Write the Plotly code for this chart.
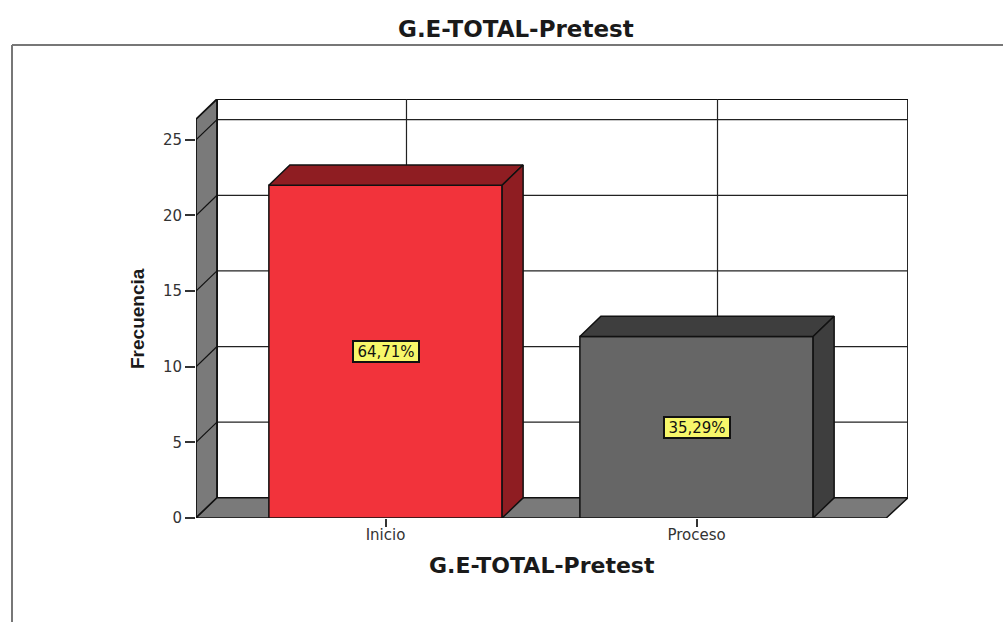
import plotly.graph_objects as go

# --- data ---
categorias = ["Inicio", "Proceso"]
frecuencia = [22, 12]
porcentajes = ["64,71%", "35,29%"]
y_ticks = [0, 5, 10, 15, 20, 25]
titulo = "G.E-TOTAL-Pretest"
y_titulo = "Frecuencia"
color_frente = ["#F2333B", "#666666"]
color_lado = ["#8F1D22", "#3E3E3E"]

# --- layout constants ---
W, H = 1003, 622
L, R, T, B = 196, 95, 99, 104
BAR_W = 0.75
X0, X1 = -0.6093, 1.6800          # includes the oblique depth
XF = 1.6100                        # right end of the front plane
YMAX_BACK = 27.7
DX, DY = 0.0675, 1.335             # oblique depth in data units
YF = YMAX_BACK - DY
EDGE = "#111111"
WALL = "#7A7A7A"
TICK_FONT = dict(family="DejaVu Sans", size=15, color="#333333")


def path(pts):
    return "M " + " L ".join(f"{x} {y}" for x, y in pts) + " Z"


def px(x):
    return (x - L) / (W - L - R)


def py(y):
    return 1 - (y - T) / (H - T - B)


shapes = []
# outer frame of the viewer
shapes.append(dict(type="line", xref="paper", yref="paper", x0=px(12), x1=px(W), y0=py(45), y1=py(45),
                   line=dict(color="#777777", width=2), layer="below"))
shapes.append(dict(type="line", xref="paper", yref="paper", x0=px(12), x1=px(12), y0=py(45), y1=py(H),
                   line=dict(color="#777777", width=2), layer="below"))


def dshape(pts, fill=None, color=EDGE, width=1.5):
    s = dict(type="path", xref="x", yref="y", path=path(pts), layer="below",
             line=dict(color=color, width=width))
    if fill:
        s["fillcolor"] = fill
    shapes.append(s)


# back wall
dshape([(X0 + DX, DY), (X1, DY), (X1, YMAX_BACK), (X0 + DX, YMAX_BACK)], fill="#FFFFFF", width=1.8)
# grid lines on the back wall and the oblique lines on the left wall
for t in y_ticks[1:]:
    shapes.append(dict(type="line", xref="x", yref="y", x0=X0 + DX, x1=X1, y0=t + DY, y1=t + DY,
                       line=dict(color="#222222", width=1.2), layer="below"))
for i in range(len(categorias)):
    shapes.append(dict(type="line", xref="x", yref="y", x0=i + DX, x1=i + DX, y0=DY, y1=YMAX_BACK,
                       line=dict(color="#222222", width=1.2), layer="below"))
# left wall and floor
dshape([(X0, 0), (X0 + DX, DY), (X0 + DX, YMAX_BACK), (X0, YF)], fill=WALL, width=1.8)
dshape([(X0, 0), (XF, 0), (X1, DY), (X0 + DX, DY)], fill=WALL, width=1.5)
for t in y_ticks[1:]:
    shapes.append(dict(type="line", xref="x", yref="y", x0=X0, x1=X0 + DX, y0=t, y1=t + DY,
                       line=dict(color="#111111", width=1.2), layer="below"))

fig = go.Figure()
# bar fronts
fig.add_trace(go.Bar(x=list(range(len(categorias))), y=frecuencia, width=BAR_W,
                     marker=dict(color=color_frente, line=dict(color=EDGE, width=1.5)),
                     hoverinfo="skip", showlegend=False))
# bar tops and sides, derived from the values
for i, v in enumerate(frecuencia):
    a, b = i - BAR_W / 2, i + BAR_W / 2
    top = [a, b, b + DX, a + DX, a]
    top_y = [v, v, v + DY, v + DY, v]
    side = [b, b + DX, b + DX, b, b]
    side_y = [0, DY, v + DY, v, 0]
    for xs, ys in ((top, top_y), (side, side_y)):
        fig.add_trace(go.Scatter(x=xs, y=ys, mode="lines", fill="toself", fillcolor=color_lado[i],
                                 line=dict(color=EDGE, width=1.5), hoverinfo="skip",
                                 showlegend=False, cliponaxis=False))

annotations = [
    dict(xref="x", yref="y", x=i, y=v / 2, text=p, showarrow=False, xanchor="center", yanchor="middle",
         width=62, height=17,
         font=dict(family="DejaVu Sans", size=15, color="#111111"),
         bgcolor="#F7F76A", bordercolor="#111111", borderwidth=2, borderpad=1)
    for i, (v, p) in enumerate(zip(frecuencia, porcentajes))
]
annotations.append(dict(xref="paper", yref="paper", x=px(516), y=py(29), text=f"<b>{titulo}</b>", showarrow=False,
                        xanchor="center", yanchor="middle",
                        font=dict(family="DejaVu Sans", size=23, color="#1A1A1A")))
annotations.append(dict(xref="paper", yref="paper", x=px(542), y=py(565), text=f"<b>{titulo}</b>", showarrow=False,
                        xanchor="center", yanchor="middle",
                        font=dict(family="DejaVu Sans", size=22, color="#1A1A1A")))
annotations.append(dict(xref="paper", yref="paper", x=px(137), y=py(319), text=f"<b>{y_titulo}</b>", showarrow=False,
                        xanchor="center", yanchor="middle", textangle=-90,
                        font=dict(family="Liberation Sans", size=19, color="#1A1A1A")))

fig.update_layout(
    width=W, height=H, autosize=False,
    margin=dict(l=L, r=R, t=T, b=B, pad=0),
    paper_bgcolor="#FFFFFF", plot_bgcolor="rgba(0,0,0,0)",
    shapes=shapes, annotations=annotations, showlegend=False,
    xaxis=dict(range=[X0, X1], tickmode="array", tickvals=list(range(len(categorias))), ticktext=categorias,
               ticks="outside", ticklen=8, tickwidth=1.5, tickcolor="#333333", showgrid=False, zeroline=False,
               showline=False, tickfont=TICK_FONT, ticklabelstandoff=-5),
    yaxis=dict(range=[0, YMAX_BACK], tickmode="array", tickvals=y_ticks, ticks="outside", ticklen=10,
               tickwidth=1.5, tickcolor="#333333", showgrid=False, zeroline=False, showline=False,
               tickfont=TICK_FONT),
)

fig.write_html("out.html", post_script="document.body.style.margin='0';document.body.style.overflow='hidden';",
               config=dict(displayModeBar=False))
